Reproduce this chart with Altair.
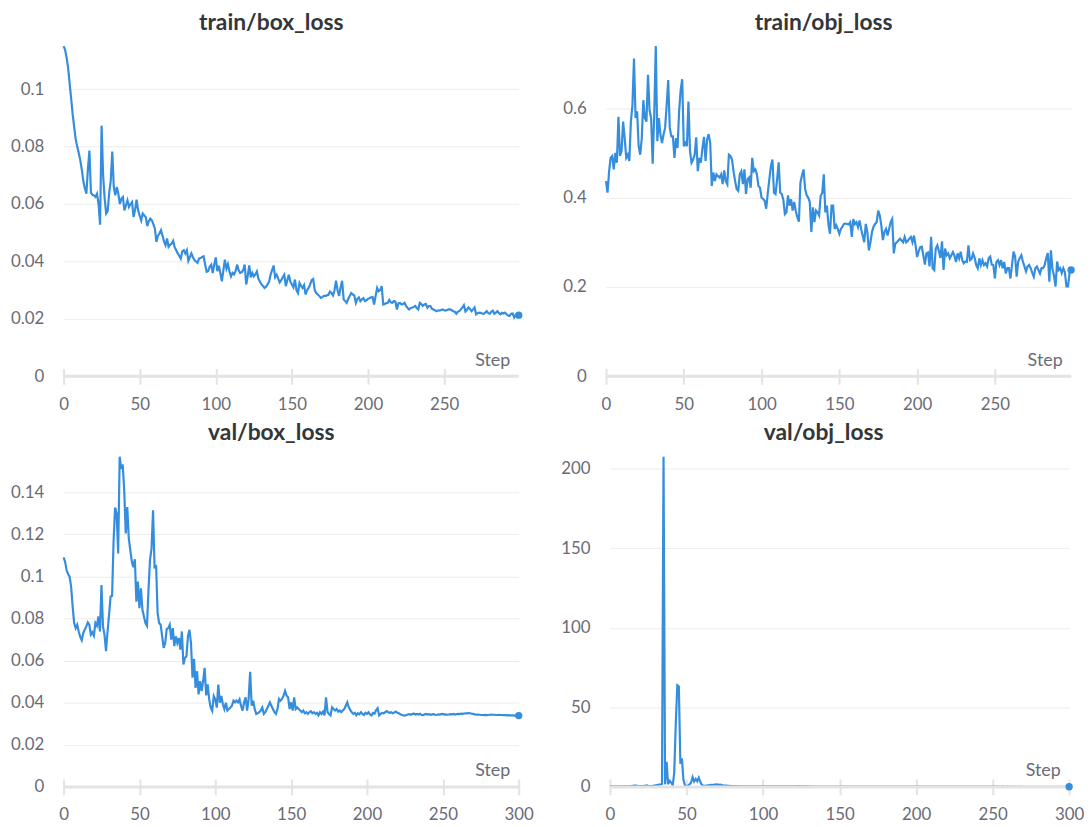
import altair as alt
import pandas as pd

# ---------------- data ----------------
train_box_loss = [
    0.1150, 0.1138, 0.1110, 0.1075, 0.1020, 0.0968, 0.0912, 0.0868, 0.0825, 0.0800,
    0.0778, 0.0752, 0.0720, 0.0680, 0.0655, 0.0636, 0.0720, 0.0786, 0.0640, 0.0632,
    0.0630, 0.0625, 0.0636, 0.0600, 0.0528, 0.0873, 0.0700, 0.0620, 0.0567, 0.0575,
    0.0640, 0.0680, 0.0783, 0.0660, 0.0630, 0.0659, 0.0636, 0.0600, 0.0618, 0.0624,
    0.0578, 0.0595, 0.0613, 0.0590, 0.0600, 0.0607, 0.0555, 0.0580, 0.0615, 0.0578,
    0.0560, 0.0543, 0.0567, 0.0560, 0.0555, 0.0523, 0.0540, 0.0549, 0.0543, 0.0530,
    0.0514, 0.0468, 0.0490, 0.0497, 0.0509, 0.0490, 0.0470, 0.0457, 0.0480, 0.0451,
    0.0458, 0.0462, 0.0472, 0.0450, 0.0439, 0.0428, 0.0420, 0.0410, 0.0435, 0.0439,
    0.0428, 0.0439, 0.0402, 0.0415, 0.0428, 0.0415, 0.0405, 0.0400, 0.0395, 0.0410,
    0.0412, 0.0416, 0.0418, 0.0390, 0.0364, 0.0366, 0.0382, 0.0389, 0.0360, 0.0390,
    0.0414, 0.0366, 0.0385, 0.0360, 0.0331, 0.0370, 0.0406, 0.0375, 0.0390, 0.0365,
    0.0348, 0.0360, 0.0355, 0.0366, 0.0389, 0.0370, 0.0360, 0.0362, 0.0370, 0.0389,
    0.0320, 0.0350, 0.0386, 0.0345, 0.0360, 0.0348, 0.0355, 0.0365, 0.0340, 0.0330,
    0.0320, 0.0315, 0.0308, 0.0312, 0.0320, 0.0330, 0.0354, 0.0370, 0.0386, 0.0345,
    0.0354, 0.0340, 0.0327, 0.0335, 0.0345, 0.0354, 0.0314, 0.0335, 0.0354, 0.0330,
    0.0320, 0.0310, 0.0337, 0.0300, 0.0290, 0.0325, 0.0315, 0.0308, 0.0318, 0.0285,
    0.0300, 0.0308, 0.0320, 0.0335, 0.0339, 0.0300, 0.0290, 0.0285, 0.0280, 0.0273,
    0.0276, 0.0280, 0.0280, 0.0282, 0.0284, 0.0295, 0.0290, 0.0282, 0.0300, 0.0333,
    0.0300, 0.0280, 0.0310, 0.0333, 0.0268, 0.0262, 0.0256, 0.0270, 0.0280, 0.0290,
    0.0285, 0.0282, 0.0256, 0.0270, 0.0275, 0.0262, 0.0268, 0.0272, 0.0262, 0.0265,
    0.0270, 0.0272, 0.0275, 0.0276, 0.0250, 0.0280, 0.0308, 0.0296, 0.0300, 0.0314,
    0.0250, 0.0252, 0.0255, 0.0256, 0.0266, 0.0258, 0.0256, 0.0262, 0.0260, 0.0233,
    0.0255, 0.0256, 0.0250, 0.0252, 0.0256, 0.0245, 0.0238, 0.0233, 0.0238, 0.0239,
    0.0242, 0.0245, 0.0238, 0.0233, 0.0256, 0.0252, 0.0245, 0.0250, 0.0252, 0.0239,
    0.0245, 0.0245, 0.0235, 0.0233, 0.0230, 0.0227, 0.0230, 0.0229, 0.0231, 0.0233,
    0.0230, 0.0229, 0.0231, 0.0233, 0.0233, 0.0230, 0.0227, 0.0225, 0.0218, 0.0225,
    0.0227, 0.0233, 0.0240, 0.0248, 0.0226, 0.0232, 0.0240, 0.0235, 0.0227, 0.0233,
    0.0240, 0.0216, 0.0220, 0.0222, 0.0221, 0.0219, 0.0218, 0.0222, 0.0227, 0.0220,
    0.0218, 0.0225, 0.0229, 0.0218, 0.0222, 0.0227, 0.0220, 0.0216, 0.0221, 0.0219,
    0.0222, 0.0216, 0.0212, 0.0210, 0.0218, 0.0219, 0.0205, 0.0214, 0.0213, 0.0213,
]

train_obj_loss = [
    0.437, 0.411, 0.459, 0.489, 0.493, 0.463, 0.500, 0.478, 0.581, 0.493,
    0.504, 0.570, 0.533, 0.489, 0.496, 0.482, 0.570, 0.607, 0.711, 0.578,
    0.593, 0.515, 0.496, 0.533, 0.618, 0.578, 0.570, 0.675, 0.596, 0.578,
    0.476, 0.585, 0.739, 0.526, 0.578, 0.541, 0.522, 0.541, 0.556, 0.607,
    0.663, 0.556, 0.537, 0.537, 0.489, 0.533, 0.511, 0.593, 0.641, 0.665,
    0.515, 0.522, 0.515, 0.615, 0.504, 0.478, 0.485, 0.496, 0.535, 0.459,
    0.489, 0.478, 0.511, 0.536, 0.482, 0.530, 0.542, 0.522, 0.426, 0.456,
    0.437, 0.452, 0.448, 0.445, 0.452, 0.430, 0.461, 0.437, 0.430, 0.496,
    0.493, 0.485, 0.459, 0.437, 0.419, 0.415, 0.452, 0.459, 0.430, 0.463,
    0.408, 0.441, 0.445, 0.422, 0.489, 0.459, 0.463, 0.452, 0.426, 0.422,
    0.400, 0.397, 0.393, 0.375, 0.410, 0.441, 0.470, 0.485, 0.411, 0.408,
    0.440, 0.479, 0.411, 0.408, 0.395, 0.363, 0.367, 0.405, 0.382, 0.396,
    0.371, 0.390, 0.370, 0.356, 0.346, 0.434, 0.450, 0.463, 0.420, 0.405,
    0.400, 0.390, 0.323, 0.378, 0.345, 0.371, 0.367, 0.360, 0.404, 0.410,
    0.452, 0.367, 0.382, 0.340, 0.319, 0.382, 0.382, 0.330, 0.338, 0.330,
    0.319, 0.330, 0.335, 0.341, 0.342, 0.341, 0.340, 0.345, 0.312, 0.352,
    0.341, 0.345, 0.334, 0.349, 0.330, 0.315, 0.300, 0.341, 0.323, 0.282,
    0.300, 0.323, 0.335, 0.341, 0.345, 0.371, 0.360, 0.338, 0.305, 0.323,
    0.330, 0.315, 0.330, 0.345, 0.352, 0.275, 0.297, 0.300, 0.304, 0.308,
    0.304, 0.300, 0.312, 0.300, 0.303, 0.308, 0.312, 0.300, 0.315, 0.293,
    0.267, 0.280, 0.289, 0.290, 0.271, 0.250, 0.275, 0.277, 0.246, 0.312,
    0.242, 0.238, 0.286, 0.293, 0.280, 0.265, 0.302, 0.238, 0.286, 0.271,
    0.275, 0.264, 0.271, 0.278, 0.270, 0.256, 0.275, 0.264, 0.279, 0.260,
    0.253, 0.257, 0.256, 0.293, 0.260, 0.263, 0.275, 0.265, 0.249, 0.242,
    0.264, 0.249, 0.260, 0.249, 0.253, 0.246, 0.264, 0.268, 0.250, 0.249,
    0.219, 0.256, 0.260, 0.249, 0.260, 0.242, 0.256, 0.230, 0.242, 0.242,
    0.219, 0.249, 0.279, 0.268, 0.223, 0.257, 0.265, 0.271, 0.257, 0.246,
    0.235, 0.246, 0.249, 0.242, 0.232, 0.223, 0.242, 0.246, 0.238, 0.230,
    0.242, 0.242, 0.249, 0.264, 0.276, 0.212, 0.282, 0.240, 0.225, 0.201,
    0.257, 0.238, 0.242, 0.231, 0.242, 0.233, 0.201, 0.201, 0.231, 0.238,
]

val_box_loss = [
    0.1091, 0.1071, 0.1031, 0.1012, 0.1000, 0.0952, 0.0858, 0.0779, 0.0755, 0.0771,
    0.0739, 0.0713, 0.0697, 0.0732, 0.0747, 0.0763, 0.0782, 0.0771, 0.0724, 0.0735,
    0.0719, 0.0779, 0.0766, 0.0810, 0.0739, 0.0960, 0.0763, 0.0724, 0.0645, 0.0739,
    0.0818, 0.0905, 0.0908, 0.1173, 0.1328, 0.1299, 0.1110, 0.1570, 0.1512, 0.1533,
    0.1410, 0.1205, 0.1331, 0.1181, 0.1126, 0.1071, 0.1044, 0.1082, 0.0881, 0.0976,
    0.0850, 0.0944, 0.0842, 0.0810, 0.0779, 0.0766, 0.0937, 0.1079, 0.1134, 0.1315,
    0.1039, 0.1055, 0.0826, 0.0779, 0.0771, 0.0716, 0.0661, 0.0684, 0.0751, 0.0755,
    0.0771, 0.0700, 0.0755, 0.0669, 0.0716, 0.0684, 0.0708, 0.0653, 0.0739, 0.0582,
    0.0613, 0.0621, 0.0716, 0.0747, 0.0684, 0.0519, 0.0609, 0.0471, 0.0550, 0.0440,
    0.0503, 0.0456, 0.0503, 0.0566, 0.0435, 0.0487, 0.0416, 0.0377, 0.0361, 0.0432,
    0.0416, 0.0377, 0.0487, 0.0400, 0.0432, 0.0393, 0.0370, 0.0400, 0.0363, 0.0370,
    0.0378, 0.0386, 0.0410, 0.0402, 0.0410, 0.0402, 0.0416, 0.0386, 0.0363, 0.0402,
    0.0426, 0.0363, 0.0420, 0.0547, 0.0386, 0.0410, 0.0370, 0.0347, 0.0350, 0.0355,
    0.0363, 0.0378, 0.0347, 0.0355, 0.0370, 0.0386, 0.0402, 0.0386, 0.0370, 0.0355,
    0.0347, 0.0370, 0.0418, 0.0410, 0.0418, 0.0434, 0.0457, 0.0434, 0.0426, 0.0370,
    0.0402, 0.0363, 0.0426, 0.0370, 0.0378, 0.0370, 0.0363, 0.0355, 0.0363, 0.0350,
    0.0355, 0.0347, 0.0355, 0.0360, 0.0350, 0.0355, 0.0347, 0.0352, 0.0340, 0.0355,
    0.0347, 0.0358, 0.0340, 0.0426, 0.0355, 0.0347, 0.0340, 0.0378, 0.0370, 0.0363,
    0.0370, 0.0358, 0.0363, 0.0355, 0.0363, 0.0370, 0.0386, 0.0402, 0.0378, 0.0365,
    0.0355, 0.0347, 0.0352, 0.0340, 0.0350, 0.0345, 0.0355, 0.0347, 0.0342, 0.0352,
    0.0347, 0.0355, 0.0345, 0.0340, 0.0352, 0.0348, 0.0365, 0.0374, 0.0340, 0.0347,
    0.0352, 0.0350, 0.0355, 0.0360, 0.0355, 0.0352, 0.0355, 0.0350, 0.0354, 0.0358,
    0.0352, 0.0350, 0.0345, 0.0342, 0.0340, 0.0339, 0.0342, 0.0344, 0.0346, 0.0343,
    0.0347, 0.0348, 0.0344, 0.0347, 0.0344, 0.0348, 0.0342, 0.0341, 0.0345, 0.0347,
    0.0344, 0.0346, 0.0343, 0.0345, 0.0346, 0.0343, 0.0342, 0.0345, 0.0344, 0.0346,
    0.0347, 0.0344, 0.0345, 0.0343, 0.0344, 0.0346, 0.0345, 0.0347, 0.0344, 0.0346,
    0.0347, 0.0346, 0.0348, 0.0347, 0.0349, 0.0350, 0.0350, 0.0351, 0.0350, 0.0348,
    0.0347, 0.0345, 0.0344, 0.0344, 0.0343, 0.0342, 0.0342, 0.0341, 0.0342, 0.0341,
    0.0342, 0.0343, 0.0344, 0.0343, 0.0343, 0.0342, 0.0342, 0.0343, 0.0342, 0.0342,
    0.0341, 0.0341, 0.0340, 0.0341, 0.0340, 0.0340, 0.0340, 0.0339, 0.0339, 0.0339,
    0.0339,
]

val_obj_loss = [
    0.45, 0.42, 0.40, 0.38, 0.37, 0.36, 0.36, 0.35, 0.35, 0.34,
    0.36, 0.38, 0.40, 0.45, 0.55, 0.70, 0.85, 0.80, 0.65, 0.55,
    0.50, 0.55, 0.60, 0.75, 0.90, 0.70, 0.55, 0.50, 0.60, 0.80,
    1.00, 1.10, 1.50, 1.50, 1.80, 207.5, 1.60, 15.8, 1.70, 3.80,
    2.70, 0.90, 9.00, 40.0, 63.8, 63.0, 14.5, 18.0, 4.50, 1.00,
    0.40, 0.80, 1.60, 2.80, 6.20, 3.40, 5.00, 3.60, 5.80, 3.20,
    1.40, 0.60, 0.70, 0.90, 1.00, 1.10, 1.30, 1.20, 1.50, 1.40,
    1.60, 1.30, 1.50, 1.20, 1.00, 0.90, 0.80, 0.70, 0.60, 0.50,
    0.50, 0.48, 0.45, 0.46, 0.43, 0.44, 0.42, 0.41, 0.43, 0.40,
    0.39, 0.40, 0.38, 0.37, 0.38, 0.36, 0.35, 0.36, 0.34, 0.33,
    0.34, 0.33, 0.32, 0.33, 0.31, 0.32, 0.30, 0.31, 0.30, 0.29,
    0.30, 0.29, 0.28, 0.29, 0.30, 0.31, 0.33, 0.35, 0.36, 0.34,
    0.37, 0.39, 0.41, 0.44, 0.40, 0.36, 0.33, 0.31, 0.29, 0.28,
    0.27, 0.28, 0.27, 0.26, 0.27, 0.26, 0.25, 0.26, 0.25, 0.25,
    0.24, 0.25, 0.24, 0.24, 0.23, 0.24, 0.23, 0.23, 0.22, 0.23,
    0.22, 0.22, 0.23, 0.22, 0.21, 0.22, 0.21, 0.21, 0.22, 0.21,
    0.20, 0.21, 0.20, 0.20, 0.21, 0.20, 0.19, 0.20, 0.19, 0.19,
    0.20, 0.19, 0.19, 0.18, 0.19, 0.18, 0.19, 0.18, 0.18, 0.19,
    0.18, 0.18, 0.17, 0.18, 0.17, 0.18, 0.17, 0.17, 0.18, 0.17,
    0.17, 0.16, 0.17, 0.17, 0.16, 0.17, 0.16, 0.16, 0.17, 0.16,
    0.16, 0.16, 0.15, 0.16, 0.16, 0.15, 0.16, 0.15, 0.15, 0.16,
    0.15, 0.15, 0.16, 0.15, 0.15, 0.14, 0.15, 0.15, 0.14, 0.15,
    0.14, 0.15, 0.14, 0.14, 0.15, 0.14, 0.14, 0.13, 0.14, 0.14,
    0.13, 0.14, 0.14, 0.13, 0.14, 0.13, 0.13, 0.14, 0.13, 0.13,
    0.13, 0.13, 0.12, 0.13, 0.13, 0.12, 0.13, 0.12, 0.12, 0.13,
    0.12, 0.12, 0.13, 0.12, 0.12, 0.11, 0.12, 0.12, 0.11, 0.12,
    0.12, 0.11, 0.12, 0.11, 0.11, 0.12, 0.11, 0.11, 0.12, 0.11,
    0.11, 0.11, 0.10, 0.11, 0.11, 0.10, 0.11, 0.10, 0.11, 0.10,
    0.10, 0.11, 0.10, 0.10, 0.11, 0.10, 0.10, 0.10, 0.11, 0.10,
    0.10, 0.10, 0.09, 0.10, 0.10, 0.09, 0.10, 0.09, 0.10, 0.09,
    0.09,
]

titles = ["train/box_loss", "train/obj_loss", "val/box_loss", "val/obj_loss"]
x_ticks_train = [0, 50, 100, 150, 200, 250]
x_ticks_val = [0, 50, 100, 150, 200, 250, 300]
y_ticks = [
    [0, 0.02, 0.04, 0.06, 0.08, 0.1],
    [0, 0.2, 0.4, 0.6],
    [0, 0.02, 0.04, 0.06, 0.08, 0.1, 0.12, 0.14],
    [0, 50, 100, 150, 200],
]

# ---------------- style ----------------
FONT = "Lato"
BLUE = "#358ddd"
AXIS_C = "#e3e3e6"
GRID_C = "#ececee"
LABEL_C = "#6b6b76"
TITLE_C = "#34363a"


def panel(values, title, xmax, xticks, yticks, width, height, yextent, title_dx):
    df = pd.DataFrame({"step": list(range(len(values))), "value": values})
    last = len(values) - 1
    x = alt.X(
        "step:Q",
        scale=alt.Scale(domain=[0, xmax], nice=False, zero=True),
        axis=alt.Axis(
            values=xticks, title="Step", grid=False, domain=False,
            ticks=True, tickSize=16, tickWidth=2, tickColor=AXIS_C,
            offset=-8, labelPadding=12, labelFlush=False,
            titleX=width - 9, titleY=-3, titleAlign="right",
            titleBaseline="alphabetic", titleFontWeight="normal",
        ),
    )
    y = alt.Y(
        "value:Q",
        scale=alt.Scale(domain=[0, max(values)], nice=False),
        axis=alt.Axis(
            values=yticks, format="~r", title=None, grid=True, domain=False,
            ticks=False, tickSize=0, labelPadding=20,
            minExtent=yextent, maxExtent=yextent,
        ),
    )
    zero = alt.Chart(pd.DataFrame({"z": [0]})).mark_rule(
        color=AXIS_C, strokeWidth=3
    ).encode(y=alt.datum(0))
    line = alt.Chart(df).mark_line(color=BLUE, strokeWidth=2.2).encode(x=x, y=y)
    dot = (
        alt.Chart(df)
        .mark_circle(color=BLUE, size=55, opacity=1)
        .encode(x="step:Q", y="value:Q")
        .transform_filter(alt.datum.step == last)
    )
    head = alt.Chart(pd.DataFrame({"t": [title]})).mark_text(
        font=FONT, fontSize=23, fontWeight="bold", color=TITLE_C,
        align="center", baseline="alphabetic",
    ).encode(
        text="t:N",
        x=alt.value(width / 2 + title_dx),
        y=alt.value(-16.5),
    )
    return alt.layer(line, zero, dot, head).properties(width=width, height=height)


tl = panel(train_box_loss, titles[0], 299, x_ticks_train, y_ticks[0], 459, 333, 56, -20)
tr = panel(train_obj_loss, titles[1], 299, x_ticks_train, y_ticks[1], 469, 333, 43, -15)
bl = panel(val_box_loss, titles[2], 300, x_ticks_val, y_ticks[2], 459, 333, 56, -20)
br = panel(val_obj_loss, titles[3], 300, x_ticks_val, y_ticks[3], 463, 333, 48, -16)

top = alt.hconcat(tl, tr, spacing=88, bounds="flush")
bottom = alt.hconcat(bl, br, spacing=92, bounds="flush")

chart = (
    alt.vconcat(top, bottom, spacing=10)
    .properties(padding=0)
    .configure_view(stroke=None)
    .configure_axis(
        labelFont=FONT, labelFontSize=17, labelColor=LABEL_C,
        titleFont=FONT, titleFontSize=18, titleColor=LABEL_C,
        gridColor=GRID_C, gridWidth=1,
    )
)

chart.save("out.html", embed_options={"renderer": "svg", "actions": False})
